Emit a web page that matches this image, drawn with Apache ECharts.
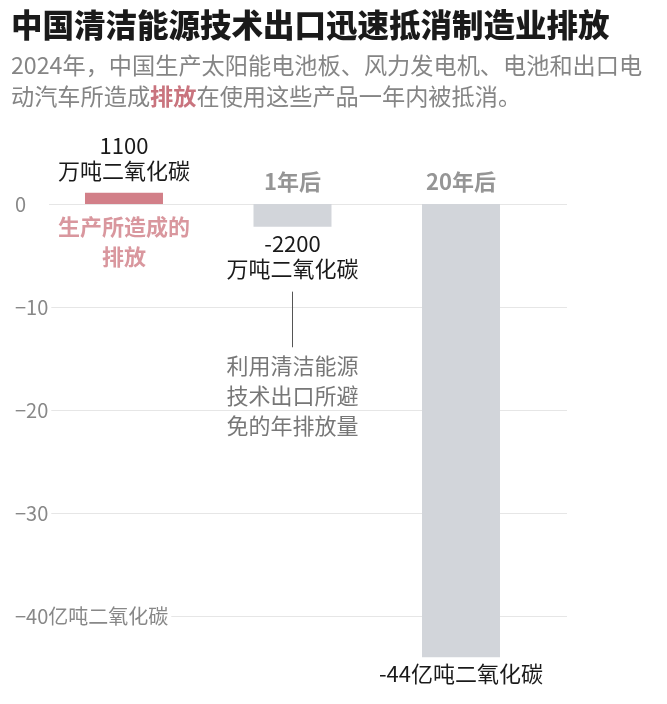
<!DOCTYPE html>
<html lang="zh">
<head>
<meta charset="UTF-8">
<title>中国清洁能源技术出口迅速抵消制造业排放</title>
<style>
  html, body { margin: 0; padding: 0; background: #fff; }
  #main { width: 667px; height: 704px; }
</style>
</head>
<body>
<div id="main"></div>
<script src="https://cdn.jsdelivr.net/npm/echarts@6/dist/echarts.min.js"></script>
<script>
// 数据（柱高按图中比例读取，单位：亿吨二氧化碳）
var categories = ['生产所造成的\n排放', '1年后', '20年后'];
var values = [1.1, -2.2, -44];
var valueLabels = ['1100\n万吨二氧化碳', '-2200\n万吨二氧化碳', '-44亿吨二氧化碳'];
var yTicks = [0, -10, -20, -30, -40];
var yTickLabels = ['0', '−10', '−20', '−30', '−40亿吨二氧化碳'];
var note = '利用清洁能源\n技术出口所避\n免的年排放量';

var FONT = '"Noto Sans CJK SC", "Noto Sans", sans-serif';
var barColors = ['#d27f88', '#d2d5da', '#d2d5da'];

var myChart = echarts.init(document.getElementById('main'));

var option = {
    animation: false,
    backgroundColor: '#fff',
    title: [
        {
            text: '中国清洁能源技术出口迅速抵消制造业排放',
            left: 11,
            top: 6,
            padding: 0,
            textStyle: { fontFamily: FONT, fontSize: 31.5, fontWeight: 900, color: '#1a1a1a', lineHeight: 38 }
        },
        {
            text: '2024年，中国生产太阳能电池板、风力发电机、电池和出口电\n动汽车所造成{hl|排放}在使用这些产品一年内被抵消。',
            left: 11,
            top: 50,
            padding: 0,
            textStyle: {
                fontFamily: FONT, fontSize: 23.2, fontWeight: 'normal', color: '#858585', lineHeight: 31,
                rich: {
                    hl: { fontFamily: FONT, fontSize: 23.2, fontWeight: 'bold', color: '#c9747e', lineHeight: 31 }
                }
            }
        }
    ],
    grid: { left: 49, right: 100, top: 183.5, bottom: 26.1 },
    xAxis: {
        type: 'value',
        min: -0.445,
        max: 2.629,
        show: false
    },
    yAxis: {
        type: 'value',
        min: -46,
        max: 2,
        z: 5,
        axisLine: { show: false },
        axisTick: { show: false },
        splitLine: { show: false },
        axisLabel: {
            customValues: yTicks,
            align: 'left',
            margin: 34,
            fontFamily: FONT,
            fontSize: 20,
            color: '#888',
            backgroundColor: '#fff',
            padding: [2, 3, 2, 0],
            formatter: function (v) {
                for (var i = 0; i < yTicks.length; i++) {
                    if (Math.abs(yTicks[i] - v) < 1e-6) return yTickLabels[i];
                }
                return '';
            }
        }
    },
    series: [
        {
            type: 'bar',
            z: 2,
            barWidth: 78,
            data: values.map(function (v, i) {
                return {
                    value: [i, v],
                    itemStyle: { color: barColors[i] },
                    label: { position: v > 0 ? 'top' : 'bottom', distance: v > 0 ? 10 : 4 }
                };
            }),
            label: {
                show: true,
                fontFamily: FONT,
                fontSize: 22,
                lineHeight: 25,
                color: '#1a1a1a',
                formatter: function (p) { return valueLabels[p.dataIndex]; }
            },
            markLine: {
                z: 1,
                silent: true,
                symbol: 'none',
                label: { show: false },
                lineStyle: { color: '#e6e6e6', width: 1, type: 'solid' },
                data: yTicks.map(function (t) { return { yAxis: t }; })
            }
        },
        {
            // 类别标题及注释
            type: 'scatter',
            z: 3,
            symbolSize: 1,
            itemStyle: { color: 'rgba(0,0,0,0)' },
            silent: true,
            data: categories.map(function (c, i) {
                var first = i === 0;
                return {
                    value: [i, 0],
                    label: {
                        show: true,
                        position: first ? 'bottom' : 'top',
                        distance: first ? 7 : 9,
                        formatter: c,
                        fontFamily: FONT,
                        fontSize: 22,
                        fontWeight: 'bold',
                        lineHeight: first ? 30 : 26,
                        color: first ? '#cf7d86' : '#7a7a7a'
                    }
                };
            }),
            markLine: {
                silent: true,
                symbol: 'none',
                lineStyle: { color: '#555', width: 1, type: 'solid' },
                label: {
                    show: true,
                    position: 'end',
                    distance: 3,
                    formatter: note,
                    fontFamily: FONT,
                    fontSize: 22,
                    lineHeight: 30,
                    color: '#777'
                },
                data: [[{ coord: [1, -8.5] }, { coord: [1, -13.9] }]]
            }
        }
    ]
};

myChart.setOption(option);
</script>
</body>
</html>
